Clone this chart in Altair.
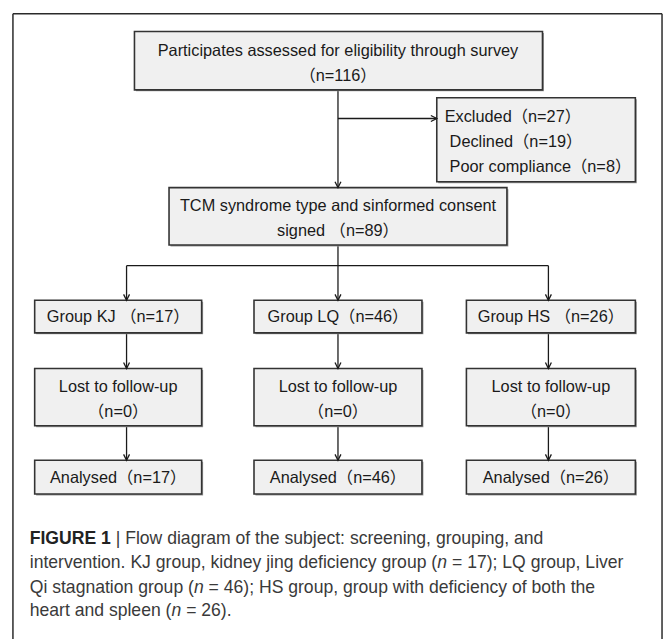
import altair as alt
import pandas as pd

# ---------------- data ----------------
screen_label = "Participates assessed for eligibility through survey"
screen_n = 116
excl_labels = ["Excluded", "Declined", "Poor compliance"]
excl_n = [27, 19, 8]
consent_lines = ["TCM syndrome type and sinformed consent", "signed "]
consent_n = 89
groups = ["KJ", "LQ", "HS"]
group_sep = [" ", "", " "]
group_n = [17, 46, 26]
lost_label = "Lost to follow-up"
lost_n = [0, 0, 0]
analysed_label = "Analysed"
analysed_n = [17, 46, 26]
caption_bold = "FIGURE 1"
caption_line1 = "| Flow diagram of the subject: screening, grouping, and"
caption_pre = ["intervention. KJ group, kidney jing deficiency group (",
               "Qi stagnation group (",
               "heart and spleen ("]
caption_post = ["= 17); LQ group, Liver",
                "= 46); HS group, group with deficiency of both the",
                "= 26)."]

# ---------------- layout (page pixels) ----------------
CX = 342
col_box = [(35, 204), (257, 427), (472, 643)]
col_arrow = [128, 342, 555]
FONT = "Liberation Sans, Arial, Noto Sans CJK SC, sans-serif"
BOX_SIZE = 16.5
CAP_FONT = "Liberation Sans, Arial, sans-serif"
CAP_SIZE = 17.8
CAP_X = 30
cap_y = [542, 566, 591, 615]
SHADOW = 1.5

# Arial / Liberation Sans advance widths (1/1000 em) for caption layout
W = {c: 556 for c in "abdeghnopqu0123456789"}
W.update({"c": 500, "f": 278, "i": 222, "j": 222, "k": 500, "l": 222, "m": 833,
          "r": 333, "s": 500, "t": 278, "v": 500, "w": 722, "x": 500, "y": 500, "z": 500,
          "A": 667, "B": 667, "C": 722, "D": 722, "E": 667, "F": 611, "G": 778, "H": 722,
          "I": 278, "J": 500, "K": 667, "L": 556, "M": 833, "N": 722, "O": 778, "P": 667,
          "Q": 778, "R": 722, "S": 667, "T": 611, "U": 722, "V": 667, "W": 944,
          " ": 278, ".": 278, ",": 278, ";": 278, ":": 278, "(": 333, ")": 333,
          "=": 584, "|": 260, "-": 333})


def tw(s, size):
    return sum(W.get(c, 556) for c in s) * size / 1000.0


boxes = [dict(x=136, x2=549, y=28, y2=87),
         dict(x=442, x2=643, y=95, y2=180),
         dict(x=171, x2=513, y=186, y2=244)]
for (a, b) in col_box:
    boxes.append(dict(x=a, x2=b, y=300, y2=333))
    boxes.append(dict(x=a, x2=b, y=369, y2=427))
    boxes.append(dict(x=a, x2=b, y=462, y2=496))
boxes = pd.DataFrame(boxes)
shadows = boxes + SHADOW

lines = [dict(x=CX, x2=CX, y=87, y2=186),
         dict(x=CX, x2=442, y=116, y2=116),
         dict(x=CX, x2=CX, y=244, y2=265),
         dict(x=col_arrow[0], x2=col_arrow[2], y=265, y2=265)]
for ax in col_arrow:
    lines += [dict(x=ax, x2=ax, y=265, y2=300),
              dict(x=ax, x2=ax, y=333, y2=369),
              dict(x=ax, x2=ax, y=427, y2=462)]
lines = pd.DataFrame(lines)

frame = pd.DataFrame([dict(x=13, x2=670, y=10, y2=10),
                      dict(x=13, x2=13, y=10, y2=660),
                      dict(x=670, x2=670, y=10, y2=660)])

down_heads = pd.DataFrame([dict(x=CX, y=186)] +
                          [dict(x=ax, y=yy) for ax in col_arrow for yy in (300, 369, 462)])
right_heads = pd.DataFrame([dict(x=442, y=116)])

center_text = [dict(x=CX, y=48, label=screen_label),
               dict(x=CX, y=73, label=f"（n={screen_n}）"),
               dict(x=CX, y=205, label=consent_lines[0]),
               dict(x=CX, y=230, label=f"{consent_lines[1]}（n={consent_n}）")]
for i, (a, b) in enumerate(col_box):
    cx = (a + b) / 2
    center_text += [dict(x=cx, y=317, label=f"Group {groups[i]}{group_sep[i]}（n={group_n[i]}）"),
                    dict(x=cx, y=388, label=lost_label),
                    dict(x=cx, y=413, label=f"（n={lost_n[i]}）"),
                    dict(x=cx, y=480, label=f"{analysed_label}（n={analysed_n[i]}）")]
center_text = pd.DataFrame(center_text)

excl_x = [450, 455, 455]
excl_y = [115, 140, 165]
left_text = pd.DataFrame([dict(x=excl_x[i], y=excl_y[i], label=f"{excl_labels[i]}（n={excl_n[i]}）")
                          for i in range(3)])

# caption segments
bold_df = pd.DataFrame([dict(x=CAP_X, y=cap_y[0], label=caption_bold)])
norm = [dict(x=CAP_X + tw(caption_bold + " ", CAP_SIZE), y=cap_y[0], label=caption_line1)]
ital = []
for i in range(3):
    x0 = CAP_X
    norm.append(dict(x=x0, y=cap_y[i + 1], label=caption_pre[i]))
    xn = x0 + tw(caption_pre[i], CAP_SIZE)
    ital.append(dict(x=xn, y=cap_y[i + 1], label="n"))
    norm.append(dict(x=xn + tw("n ", CAP_SIZE), y=cap_y[i + 1], label=caption_post[i]))
norm_df = pd.DataFrame(norm)
ital_df = pd.DataFrame(ital)

# ---------------- chart ----------------
X = alt.X("x:Q", scale=alt.Scale(domain=[8, 672], nice=False, zero=False), axis=None)
Y = alt.Y("y:Q", scale=alt.Scale(domain=[8, 639], nice=False, zero=False, reverse=True), axis=None)

frame_layer = alt.Chart(frame).mark_rule(color="#2a2a2a", strokeWidth=1.5).encode(
    x=X, x2="x2:Q", y=Y, y2="y2:Q")
line_layer = alt.Chart(lines).mark_rule(color="#1a1a1a", strokeWidth=1.3).encode(
    x=X, x2="x2:Q", y=Y, y2="y2:Q")
shadow_layer = alt.Chart(shadows).mark_rect(fill="#9a9a9a", strokeWidth=0).encode(
    x=X, x2="x2:Q", y=Y, y2="y2:Q")
box_layer = alt.Chart(boxes).mark_rect(fill="#f0f0f0", stroke="#333333", strokeWidth=1.6).encode(
    x=X, x2="x2:Q", y=Y, y2="y2:Q")
down_layer = alt.Chart(down_heads).mark_point(
    shape="M -1 -2 L 0 0 L 1 -2", filled=False, size=36, strokeWidth=1.3,
    color="#1a1a1a", opacity=1).encode(x=X, y=Y)
right_layer = alt.Chart(right_heads).mark_point(
    shape="M -2 -1 L 0 0 L -2 1", filled=False, size=36, strokeWidth=1.3,
    color="#1a1a1a", opacity=1).encode(x=X, y=Y)
ctext_layer = alt.Chart(center_text).mark_text(
    align="center", baseline="middle", font=FONT, fontSize=BOX_SIZE, color="#1a1a1a").encode(
    x=X, y=Y, text="label:N")
ltext_layer = alt.Chart(left_text).mark_text(
    align="left", baseline="middle", font=FONT, fontSize=BOX_SIZE, color="#1a1a1a").encode(
    x=X, y=Y, text="label:N")
cap_bold_layer = alt.Chart(bold_df).mark_text(
    align="left", baseline="middle", font=CAP_FONT, fontSize=CAP_SIZE, fontWeight="bold",
    color="#222222").encode(x=X, y=Y, text="label:N")
cap_norm_layer = alt.Chart(norm_df).mark_text(
    align="left", baseline="middle", font=CAP_FONT, fontSize=CAP_SIZE,
    color="#3a3a3a").encode(x=X, y=Y, text="label:N")
cap_ital_layer = alt.Chart(ital_df).mark_text(
    align="left", baseline="middle", font=CAP_FONT, fontSize=CAP_SIZE, fontStyle="italic",
    color="#3a3a3a").encode(x=X, y=Y, text="label:N")

chart = alt.layer(
    frame_layer, line_layer, shadow_layer, box_layer, down_layer, right_layer,
    ctext_layer, ltext_layer, cap_bold_layer, cap_norm_layer, cap_ital_layer
).properties(width=664, height=631, padding=0, autosize="none").configure_view(stroke=None)

chart.save("out.html", embed_options={"renderer": "svg", "actions": False})
